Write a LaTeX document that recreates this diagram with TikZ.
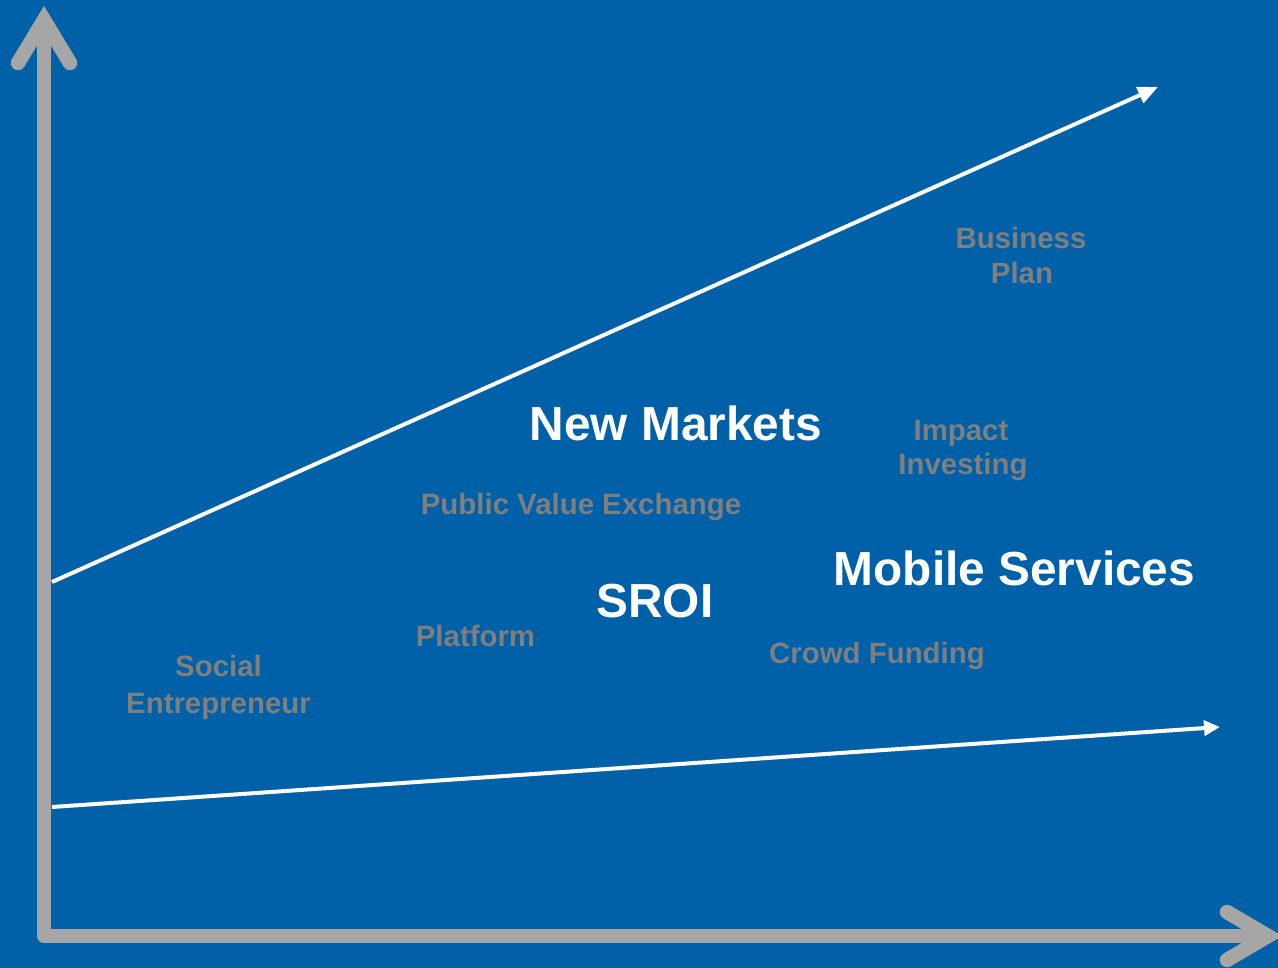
\documentclass[tikz,border=0pt]{standalone}
\usepackage{fontspec}
\setmainfont{Liberation Sans}
\usetikzlibrary{arrows.meta}
\definecolor{bg}{RGB}{0,96,168}
\definecolor{axisgray}{RGB}{166,166,166}
\definecolor{labelgray}{RGB}{127,127,127}
\begin{document}
\begin{tikzpicture}[x=1pt,y=-1pt,
  big/.style={font=\fontsize{47.8}{57}\selectfont\bfseries, text=white, inner sep=0pt, anchor=base},
  small/.style={font=\fontsize{29.4}{35}\selectfont\bfseries, text=labelgray, inner sep=0pt, anchor=base},
  axisline/.style={draw=axisgray, line width=14.5pt, line cap=round},
  trend/.style={draw=white, line width=4pt}]
\fill[bg] (0,0) rectangle (1278,968);
\useasboundingbox (0,0) rectangle (1278,968);
% axes
\coordinate (ytip) at (44,20);
\coordinate (origin) at (44,936);
\coordinate (xtip) at (1268,936);
\coordinate (yl) at (18,63);
\coordinate (yr) at (70,63);
\coordinate (xu) at (1227,912);
\coordinate (xd) at (1227,960);
\begin{scope}
\clip (0,0) rectangle (1278,968);
\draw[axisline, line join=round] (ytip) -- (origin) -- (xtip);
\draw[axisline, line join=miter] (yl) -- (ytip) -- (yr);
\draw[axisline, line join=miter] (xu) -- (xtip) -- (xd);
\end{scope}
% trend arrows
\coordinate (upstart) at (52,582);
\coordinate (upend) at (1158,87);
\coordinate (lowstart) at (52,807);
\coordinate (lowend) at (1220,727);
\draw[trend, -{Triangle[length=20pt,width=17pt]}] (upstart) -- (upend);
\draw[trend, -{Triangle[length=16pt,width=15pt]}] (lowstart) -- (lowend);
% labels
\node[small] (bp1) at (1021,249) {Business};
\node[small] (bp2) at (1022,284) {Plan};
\node[small] (ii1) at (961,440) {Impact};
\node[small] (ii2) at (963,475) {Investing};
\node[small] (pve) at (581,514) {Public Value Exchange};
\node[small] (plat) at (475.5,646) {Platform};
\node[small] (se1) at (218.5,676) {Social};
\node[small] (se2) at (218.5,713) {Entrepreneur};
\node[small] (cf) at (877,663) {Crowd Funding};
\node[big] (nm) at (676,441) {New Markets};
\node[big] (sroi) at (655,617) {SROI};
\node[big] (ms) at (1014.5,585) {Mobile Services};
\end{tikzpicture}
\end{document}
